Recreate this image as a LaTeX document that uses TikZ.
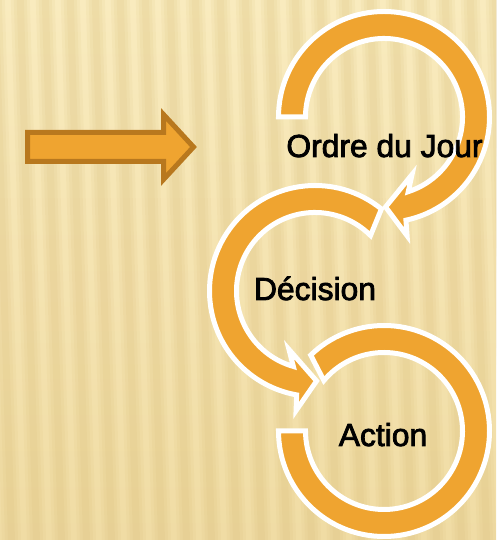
\documentclass[tikz,border=0pt]{standalone}
\usepackage{fontspec}
\setmainfont{Liberation Sans}
\newfontfamily\lblfont[FakeBold=2.5]{Liberation Sans}
\usetikzlibrary{calc}
\definecolor{orng}{HTML}{EFA430}
\definecolor{orngdark}{HTML}{B8781E}
\definecolor{bgtop}{HTML}{F9EBBE}
\definecolor{bgbot}{HTML}{F0DCA4}
\definecolor{stripecol}{HTML}{D4B66E}
\begin{document}
\begin{tikzpicture}[x=1pt,y=1pt,
  ring/.style={fill=orng, draw=white, line width=5pt, line join=miter},
  lbl/.style={font=\lblfont\fontsize{31.8}{38}\selectfont, text=black, anchor=base, inner sep=0pt},
  bigarrow/.style={fill=orng, draw=orngdark, line width=5pt, line join=miter}]
\useasboundingbox (0,0) rectangle (496,540);
% background
\shade[top color=bgtop, bottom color=bgbot] (0,0) rectangle (496,540);
\begin{scope}[xslant=-0.03]
  \foreach \i in {-1,...,22} {
    \fill[stripecol, opacity=0.09] (\i*25+2,0) rectangle (\i*25+21,540);
    \fill[stripecol, opacity=0.10] (\i*25+5,0) rectangle (\i*25+18,540);
    \fill[stripecol, opacity=0.10] (\i*25+8,0) rectangle (\i*25+15,540);
  }
\end{scope}
% big arrow
\draw[bigarrow] (27.5,407.5) -- (163.5,407.5) -- (163.5,425.5) -- (193.5,393)
  -- (163.5,360.5) -- (163.5,378.5) -- (27.5,378.5) -- cycle;
% centres
\coordinate (c1) at (384,423);
\coordinate (c2) at (315,249);
\coordinate (c3) at (384,109);
% ring 1 (clockwise)
\draw[ring] ($(c1)+(180:105.5)$) arc[start angle=180, end angle=-78, radius=105.5]
  -- ($(c1)+(-79:121)$) -- ($(c1)+(-89:90)$) -- ($(c1)+(-64:64)$)
  -- ($(c1)+(-72:78.5)$) arc[start angle=-72, end angle=180, radius=78.5] -- cycle;
% ring 2 (counter-clockwise)
\draw[ring] ($(c2)+(45:78.5)$) -- ($(c2)+(51:105.5)$)
  arc[start angle=51, end angle=260, radius=105.5]
  -- ($(c2)+(261:121)$) -- ($(c2)+(271:90)$) -- ($(c2)+(246:64)$)
  -- ($(c2)+(254:78.5)$) arc[start angle=254, end angle=45, radius=78.5] -- cycle;
% ring 3
\draw[ring] ($(c3)+(180:105.5)$) arc[start angle=180, end angle=494, radius=105.5]
  -- ($(c3)+(500:78.5)$) arc[start angle=500, end angle=180, radius=78.5] -- cycle;
% labels
\node[lbl] (t1) at (384.5,383) {Ordre du Jour};
\node[lbl] (t2) at (315,240) {Décision};
\node[lbl] (t3) at (383,94) {Action};
\end{tikzpicture}
\end{document}
